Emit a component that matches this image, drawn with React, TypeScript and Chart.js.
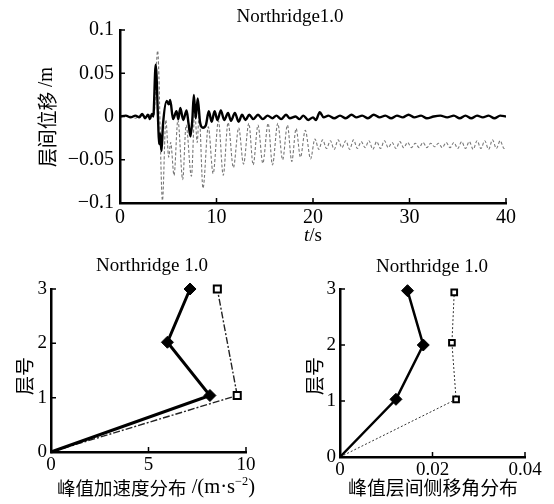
import React, { useEffect, useRef } from 'react';
import { Chart, registerables } from 'chart.js';
Chart.register(...registerables);

const LATIN = "'Liberation Serif', 'Times New Roman', serif";
const CJK = "'Noto Sans CJK SC', 'Liberation Serif', sans-serif";

// ---------- Top chart: time history ----------
const TOP_TITLE = 'Northridge1.0';
const TOP_X_TICKS = [0, 10, 20, 30, 40];
const TOP_X_LABELS = ['0', '10', '20', '30', '40'];
const TOP_Y_TICKS = [-0.1, -0.05, 0, 0.05, 0.1];
const TOP_Y_LABELS = ['\u22120.1', '\u22120.05', '0', '0.05', '0.1'];

const SOLID_T = [0, 0.6, 1.1, 1.6, 2.0, 2.3, 2.6, 2.9, 3.1, 3.3, 3.45, 3.7, 3.95, 4.05, 4.15, 4.3, 4.45, 4.85, 5.05, 5.2, 5.5, 5.85, 6.05, 6.25, 6.55, 6.9, 7.1, 7.3, 7.5, 7.65, 7.85, 8.05, 8.3, 8.6, 8.9, 9.2, 9.5, 9.8, 10.1, 10.45, 10.8, 11.2, 11.5, 11.9, 12.3, 12.65, 13.0, 13.4, 13.8, 14.3, 14.8, 15.3, 15.8, 16.2, 16.7, 17.2, 17.6, 18.2, 18.6, 19.0, 19.5, 20.0, 20.3, 20.7, 21.1, 21.6, 22.2, 22.8, 23.4, 24.0, 24.5, 25.1, 25.7, 26.3, 26.9, 27.5, 28.1, 28.7, 29.3, 29.9, 30.5, 31.2, 31.8, 32.5, 33.2, 33.9, 34.6, 35.2, 35.8, 36.4, 37.0, 37.6, 38.2, 38.8, 39.4, 40];
const SOLID_V = [0, 0.001, -0.001, 0.001, -0.001, 0.003, -0.002, 0.002, -0.003, 0.003, 0.0, 0.060, -0.005, -0.032, -0.02, -0.040, -0.01, 0.018, 0.014, 0.019, -0.003, 0.006, -0.003, 0.010, -0.004, 0.007, -0.008, -0.023, -0.003, 0.025, -0.002, 0.021, -0.007, -0.013, -0.010, 0.006, -0.006, 0.006, -0.004, 0.007, -0.004, 0.004, -0.005, 0.004, -0.006, 0.002, -0.004, 0.002, -0.003, 0.002, -0.003, 0.001, -0.002, 0.001, -0.003, 0.002, -0.002, 0.0, -0.003, 0.001, -0.004, -0.001, -0.004, 0.005, -0.001, 0.001, -0.002, 0.001, -0.002, 0.002, -0.001, 0.001, -0.002, 0.002, -0.001, 0.001, -0.002, 0.001, -0.001, 0.002, -0.001, 0.001, -0.002, 0.000, 0.001, -0.001, 0.001, -0.002, 0.001, -0.002, 0.001, -0.001, 0.001, -0.002, 0.001, 0.0];

const DASH_T = [0, 0.8, 1.6, 2.2, 2.8, 3.2, 3.5, 3.9, 4.4, 4.75, 5.05, 5.25, 5.6, 6.0, 6.5, 6.85, 7.4, 7.75, 8.0, 8.2, 8.6, 9.15, 9.65, 10.2, 10.7, 11.2, 11.75, 12.3, 12.8, 13.35, 13.8, 14.3, 14.8, 15.35, 15.8, 16.35, 16.85, 17.35, 17.8, 18.25, 18.7, 19.2, 19.75, 20.2, 20.6, 21.0, 21.4, 21.8, 22.2, 22.6, 23.0, 23.4, 23.8, 24.2, 24.6, 25.0, 25.4, 25.8, 26.2, 26.6, 27.0, 27.4, 27.8, 28.2, 28.6, 29.0, 29.4, 29.8, 30.2, 30.6, 31.0, 31.4, 31.8, 32.2, 32.6, 33.0, 33.4, 33.8, 34.2, 34.6, 35.0, 35.4, 35.8, 36.2, 36.6, 37.0, 37.4, 37.8, 38.2, 38.6, 39.0, 39.4, 39.8, 40.0];
const DASH_V = [0, 0.001, -0.002, 0.002, -0.001, 0.003, 0.0, 0.076, -0.097, -0.004, -0.047, -0.030, -0.068, -0.004, -0.073, -0.010, -0.069, 0.005, -0.030, 0.003, -0.083, -0.012, -0.066, -0.005, -0.068, -0.007, -0.059, -0.013, -0.055, -0.008, -0.056, -0.010, -0.054, -0.008, -0.056, -0.008, -0.050, -0.010, -0.052, -0.014, -0.047, -0.016, -0.049, -0.026, -0.038, -0.027, -0.037, -0.028, -0.038, -0.027, -0.036, -0.028, -0.038, -0.027, -0.037, -0.029, -0.036, -0.028, -0.038, -0.029, -0.037, -0.028, -0.036, -0.030, -0.037, -0.029, -0.036, -0.030, -0.036, -0.031, -0.036, -0.030, -0.036, -0.031, -0.035, -0.031, -0.036, -0.030, -0.036, -0.030, -0.037, -0.029, -0.037, -0.029, -0.038, -0.028, -0.037, -0.028, -0.038, -0.027, -0.037, -0.028, -0.037, -0.036];

// ---------- Bottom charts ----------
const PROFILE_TITLE = 'Northridge 1.0';
const FLOOR_TICKS = [0, 1, 2, 3];
const FLOOR_LABELS = ['0', '1', '2', '3'];

const ACC_X_TICKS = [0, 5, 10];
const ACC_X_LABELS = ['0', '5', '10'];
const ACC_SOLID_X = [0, 8.15, 5.97, 7.13];
const ACC_SOLID_Y = [0, 1.04, 2.02, 3.0];
const ACC_DASH_X = [0, 9.55, 8.53];
const ACC_DASH_Y = [0, 1.04, 3.0];

const DRIFT_X_TICKS = [0, 0.02, 0.04];
const DRIFT_X_LABELS = ['0', '0.02', '0.04'];
const DRIFT_SOLID_X = [0, 0.0121, 0.018, 0.0146];
const DRIFT_SOLID_Y = [0, 1.03, 2.0, 2.97];
const DRIFT_DASH_X = [0, 0.0251, 0.0242, 0.0247];
const DRIFT_DASH_Y = [0, 1.03, 2.04, 2.94];

function pts(xs: number[], ys: number[]) {
  const n = Math.min(xs.length, ys.length);
  const out: { x: number; y: number }[] = [];
  for (let i = 0; i < n; i++) out.push({ x: xs[i], y: ys[i] });
  return out;
}

type Part = { text: string; font: string; dy?: number };
type TextItem = { parts: Part[]; x: number; y: number; rot?: number; fitWidth?: number };

function textPlugin(items: TextItem[]) {
  return {
    id: 'texts',
    afterDraw(chart: any) {
      const ctx = chart.ctx as CanvasRenderingContext2D;
      for (const it of items) {
        ctx.save();
        ctx.fillStyle = '#000';
        ctx.textBaseline = 'middle';
        ctx.textAlign = 'left';
        const widths = it.parts.map((p) => {
          ctx.font = p.font;
          return ctx.measureText(p.text).width;
        });
        const total = widths.reduce((a, b) => a + b, 0);
        ctx.translate(it.x, it.y);
        if (it.rot) ctx.rotate(it.rot);
        const sx = it.fitWidth ? it.fitWidth / total : 1;
        ctx.scale(sx, 1);
        let cx = -total / 2;
        it.parts.forEach((p, i) => {
          ctx.font = p.font;
          ctx.fillText(p.text, cx, p.dy || 0);
          cx += widths[i];
        });
        ctx.restore();
      }
    },
  };
}

const inwardTicks = {
  id: 'inwardTicks',
  afterDatasetsDraw(chart: any) {
    const { ctx, chartArea, scales } = chart;
    ctx.save();
    ctx.strokeStyle = '#000';
    ctx.lineWidth = 1.5;
    ctx.beginPath();
    for (const t of scales.x.ticks) {
      const p = scales.x.getPixelForValue(t.value);
      ctx.moveTo(p, chartArea.bottom);
      ctx.lineTo(p, chartArea.bottom - 5);
    }
    for (const t of scales.y.ticks) {
      const p = scales.y.getPixelForValue(t.value);
      ctx.moveTo(chartArea.left, p);
      ctx.lineTo(chartArea.left + 5, p);
    }
    ctx.stroke();
    ctx.restore();
  },
};

function makeAxis(min: number, max: number, ticks: number[], labels: string[], fit: (s: any) => void, fontSize: number, pad: number) {
  return {
    type: 'linear',
    min,
    max,
    afterBuildTicks: (s: any) => {
      s.ticks = ticks.map((v) => ({ value: v }));
    },
    afterFit: fit,
    grid: { display: false, drawTicks: false },
    border: { display: true, color: '#000', width: 2.5 },
    ticks: {
      color: '#000',
      font: { family: LATIN, size: fontSize },
      padding: pad,
      maxRotation: 0,
      autoSkip: false,
      callback: (_v: any, i: number) => labels[i],
    },
  };
}

function baseOptions(padding: any, scales: any) {
  return {
    responsive: false,
    animation: false,
    devicePixelRatio: 1,
    events: [],
    layout: { padding },
    plugins: { legend: { display: false }, tooltip: { enabled: false }, title: { display: false } },
    scales,
  };
}

function topConfig() {
  return {
    type: 'scatter',
    data: {
      datasets: [
        { data: pts(SOLID_T, SOLID_V), showLine: true, borderColor: '#000', borderWidth: 2.4, pointRadius: 0, cubicInterpolationMode: 'monotone' },
        { data: pts(DASH_T, DASH_V), showLine: true, borderColor: '#777', borderWidth: 1.1, borderDash: [3, 2], pointRadius: 0, cubicInterpolationMode: 'monotone' },
      ],
    },
    options: baseOptions({ left: 0, top: 30, right: 48, bottom: 0 }, {
      x: makeAxis(0, 40, TOP_X_TICKS, TOP_X_LABELS, (s: any) => { s.height = 47; }, 20, 3),
      y: makeAxis(-0.1, 0.1, TOP_Y_TICKS, TOP_Y_LABELS, (s: any) => { s.width = 120; }, 20, 6),
    }),
    plugins: [
      inwardTicks,
      textPlugin([
        { parts: [{ text: TOP_TITLE, font: `19px ${LATIN}` }], x: 290, y: 17 },
        { parts: [{ text: '层间位移', font: `20px ${CJK}` }, { text: ' /m', font: `20px ${LATIN}` }], x: 47, y: 117, rot: -Math.PI / 2, fitWidth: 100 },
        { parts: [{ text: 't', font: `italic 19px ${LATIN}` }, { text: '/s', font: `19px ${LATIN}` }], x: 313, y: 236 },
      ]),
    ],
  };
}

function accConfig() {
  return {
    type: 'scatter',
    data: {
      datasets: [
        { data: pts(ACC_SOLID_X, ACC_SOLID_Y), showLine: true, clip: false, borderColor: '#000', borderWidth: 3, pointStyle: 'rectRot', pointRadius: [0, 6, 6, 6], pointBackgroundColor: '#000', pointBorderColor: '#000', pointBorderWidth: 1 },
        { data: pts(ACC_DASH_X, ACC_DASH_Y), showLine: true, clip: false, borderColor: '#222', borderWidth: 1.4, borderDash: [7, 2, 2, 2], pointStyle: 'rect', pointRadius: [0, 5, 5], pointBackgroundColor: '#fff', pointBorderColor: '#000', pointBorderWidth: 2 },
      ],
    },
    options: baseOptions({ left: 0, top: 39, right: 34, bottom: 0 }, {
      x: makeAxis(0, 10, ACC_X_TICKS, ACC_X_LABELS, (s: any) => { s.height = 52; }, 19, 2),
      y: makeAxis(0, 3, FLOOR_TICKS, FLOOR_LABELS, (s: any) => { s.width = 51; }, 19, 4),
    }),
    plugins: [
      inwardTicks,
      textPlugin([
        { parts: [{ text: PROFILE_TITLE, font: `19px ${LATIN}` }], x: 152, y: 16 },
        { parts: [{ text: '层号', font: `19px ${CJK}` }], x: 25, y: 126, rot: -Math.PI / 2 },
        {
          parts: [
            { text: '峰值加速度分布', font: `18px ${CJK}` },
            { text: ' /(m\u00b7s', font: `20px ${LATIN}` },
            { text: '\u22122', font: `12px ${LATIN}`, dy: -6 },
            { text: ')', font: `20px ${LATIN}` },
          ],
          x: 156, y: 238, fitWidth: 198,
        },
      ]),
    ],
  };
}

function driftConfig() {
  return {
    type: 'scatter',
    data: {
      datasets: [
        { data: pts(DRIFT_SOLID_X, DRIFT_SOLID_Y), showLine: true, clip: false, borderColor: '#000', borderWidth: 2.5, pointStyle: 'rectRot', pointRadius: [0, 6, 6, 6], pointBackgroundColor: '#000', pointBorderColor: '#000', pointBorderWidth: 1 },
        { data: pts(DRIFT_DASH_X, DRIFT_DASH_Y), showLine: true, clip: false, borderColor: '#333', borderWidth: 1, borderDash: [2, 2], pointStyle: 'rect', pointRadius: [0, 4, 4, 4], pointBackgroundColor: '#fff', pointBorderColor: '#000', pointBorderWidth: 2 },
      ],
    },
    options: baseOptions({ left: 0, top: 39, right: 29, bottom: 0 }, {
      x: makeAxis(0, 0.04, DRIFT_X_TICKS, DRIFT_X_LABELS, (s: any) => { s.height = 47; }, 19, 2),
      y: makeAxis(0, 3, FLOOR_TICKS, FLOOR_LABELS, (s: any) => { s.width = 60; }, 19, 4),
    }),
    plugins: [
      inwardTicks,
      textPlugin([
        { parts: [{ text: PROFILE_TITLE, font: `19px ${LATIN}` }], x: 152, y: 17 },
        { parts: [{ text: '层号', font: `19px ${CJK}` }], x: 35, y: 126, rot: -Math.PI / 2 },
        { parts: [{ text: '峰值层间侧移角分布', font: `19px ${CJK}` }], x: 153, y: 238, fitWidth: 170 },
      ]),
    ],
  };
}

function ChartBox({ left, top, width, height, makeConfig }: { left: number; top: number; width: number; height: number; makeConfig: () => any }) {
  const ref = useRef<HTMLCanvasElement>(null);
  useEffect(() => {
    const chart = new Chart(ref.current as HTMLCanvasElement, makeConfig());
    return () => chart.destroy();
  }, []);
  return <canvas ref={ref} width={width} height={height} style={{ position: 'absolute', left, top, width, height }} />;
}

export default function App() {
  return (
    <div>
      <ChartBox left={0} top={0} width={554} height={250} makeConfig={topConfig} />
      <ChartBox left={0} top={250} width={280} height={254} makeConfig={accConfig} />
      <ChartBox left={280} top={250} width={274} height={254} makeConfig={driftConfig} />
    </div>
  );
}
